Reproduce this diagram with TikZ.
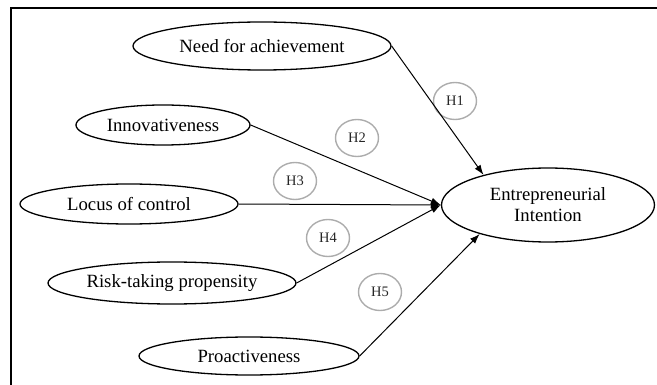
\documentclass[tikz,border=0pt]{standalone}
\usepackage{fontspec}
\setmainfont{Liberation Serif}
\usetikzlibrary{shapes.geometric,arrows.meta}

\tikzset{
    construct/.style={draw, ellipse, line width=1.3pt, inner sep=0pt, font=\fontsize{18.7}{21}\selectfont, align=center},
    hyp/.style={draw=gray!65, ellipse, line width=1.4pt, minimum width=43pt, minimum height=37pt, inner sep=0pt, text=black!85, font=\fontsize{14.5}{16}\selectfont},
    path/.style={line width=1pt, -{Latex[length=10pt,width=7pt]}}
}

\begin{document}
\begin{tikzpicture}[x=1pt, y=-1pt]
    % Fix the page size
    \useasboundingbox (0,0) rectangle (657,385);

    % Frame (top and left edges)
    \draw[line width=1.2pt] (11,385) -- (11,8) -- (657,8);

    % Constructs
    \node[construct, minimum width=258pt, minimum height=48pt] (need) at (262,46) {Need for achievement};
    \node[construct, minimum width=174pt, minimum height=40pt] (innov) at (163,125) {Innovativeness};
    \node[construct, minimum width=218pt, minimum height=40pt] (locus) at (129,204) {Locus of control};
    \node[construct, minimum width=248pt, minimum height=42pt] (risk) at (172,283) {Risk-taking propensity};
    \node[construct, minimum width=220pt, minimum height=38pt] (proact) at (249,356) {Proactiveness};
    \node[construct, minimum width=213pt, minimum height=74pt] (ei) at (548,205) {Entrepreneurial\\Intention};

    % Hypotheses
    \node[hyp] (h1) at (455,101) {H1};
    \node[hyp] (h2) at (357,138) {H2};
    \node[hyp] (h3) at (295,181) {H3};
    \node[hyp] (h4) at (328,238) {H4};
    \node[hyp] (h5) at (380,292) {H5};

    % Paths
    \draw[path] (need.east) -- (ei.155);
    \draw[path] (innov.east) -- (ei.west);
    \draw[path] (locus.east) -- (ei.west);
    \draw[path] (risk.east) -- (ei.west);
    \draw[path] (proact.east) -- (ei.203);
\end{tikzpicture}
\end{document}
